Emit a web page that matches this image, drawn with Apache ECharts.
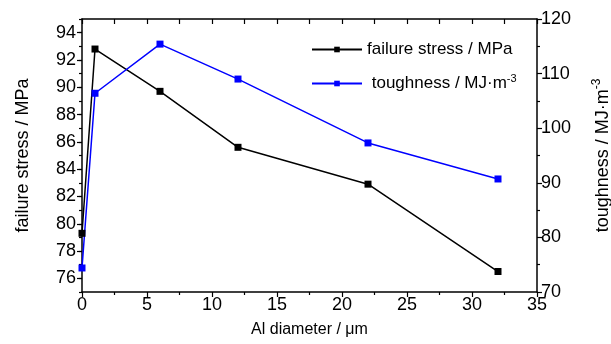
<!DOCTYPE html>
<html>
<head>
<meta charset="utf-8">
<style>
    html, body { margin: 0; padding: 0; background: #fff; }
    #chart { width: 611px; height: 344px; }
</style>
<script src="https://cdn.jsdelivr.net/npm/echarts@6/dist/echarts.min.js"></script>
</head>
<body>
<div id="chart"></div>
<script>
// Al diameter (um)
var diameters = [0, 1, 6, 12, 22, 32];
// failure stress / MPa (left axis)
var stressValues = [79.3, 92.8, 89.7, 85.6, 82.9, 76.5];
// toughness / MJ m-3 (right axis)
var toughnessValues = [74.4, 106.4, 115.4, 109.0, 97.3, 90.7];
// tick labels of left axis
var stressTicks = [76, 78, 80, 82, 84, 86, 88, 90, 92, 94];

function pairs(xs, ys) {
    return xs.map(function (x, i) { return [x, ys[i]]; });
}

var font = 'Liberation Sans, Arial, sans-serif';
var myChart = echarts.init(document.getElementById('chart'));

var options = {
    animation: false,
    backgroundColor: '#fff',
    grid: { left: 82, right: 74, top: 19, bottom: 52, outerBoundsMode: 'none' },
    legend: {
        orient: 'vertical',
        left: 306,
        top: 36,
        itemWidth: 50,
        itemHeight: 7,
        itemGap: 15,
        textStyle: {
            fontFamily: font,
            fontSize: 17,
            color: '#000',
            rich: {
                t: { fontFamily: font, fontSize: 17, color: '#000' },
                sup: { fontFamily: font, fontSize: 11, color: '#000', verticalAlign: 'top', padding: [0, 0, 10, 0] }
            }
        },
        formatter: function (name) {
            if (name === 'toughness') return '{t| toughness / MJ·m}{sup|-3}';
            return '{t|failure stress / MPa}';
        },
        data: ['failure stress', 'toughness']
    },
    xAxis: [{
        type: 'value',
        min: 0,
        max: 35,
        interval: 5,
        name: 'Al diameter / μm',
        nameLocation: 'middle',
        nameGap: 30,
        nameTextStyle: { fontFamily: font, fontSize: 16, color: '#000' },
        axisLine: { onZero: false, lineStyle: { color: '#000', width: 1.5 } },
        axisTick: { length: 5, lineStyle: { color: '#000', width: 1.2 } },
        minorTick: { show: true, splitNumber: 2, length: 3, lineStyle: { color: '#000', width: 1.2 } },
        axisLabel: { fontFamily: font, fontSize: 18, color: '#000', margin: 4 },
        splitLine: { show: false }
    }, {
        type: 'value',
        position: 'top',
        min: 0,
        max: 35,
        interval: 2.5,
        axisLine: { onZero: false, lineStyle: { color: '#000', width: 1.5 } },
        axisTick: { inside: true, length: 5, lineStyle: { color: '#000', width: 1.2 } },
        axisLabel: { show: false },
        splitLine: { show: false }
    }],
    yAxis: [{
        type: 'value',
        position: 'left',
        min: 75,
        max: 95,
        interval: 1,
        name: 'failure stress / MPa',
        nameLocation: 'middle',
        nameRotate: 90,
        nameGap: 50,
        nameTextStyle: { fontFamily: font, fontSize: 18, color: '#000' },
        axisLine: { show: true, onZero: false, lineStyle: { color: '#000', width: 1.5 } },
        axisTick: { customValues: stressTicks, length: 5, lineStyle: { color: '#000', width: 1.2 } },
        axisLabel: { customValues: stressTicks, fontFamily: font, fontSize: 18, color: '#000', margin: 6 },
        splitLine: { show: false }
    }, {
        type: 'value',
        position: 'right',
        min: 70,
        max: 120,
        interval: 10,
        name: '{t|toughness / MJ·m}{sup|-3}',
        nameLocation: 'middle',
        nameRotate: 90,
        nameGap: 54,
        nameTextStyle: {
            fontFamily: font, fontSize: 18, color: '#000',
            rich: {
                t: { fontFamily: font, fontSize: 18, color: '#000' },
                sup: { fontFamily: font, fontSize: 12, color: '#000', verticalAlign: 'top', padding: [0, 0, 12, 0] }
            }
        },
        axisLine: { show: true, onZero: false, lineStyle: { color: '#000', width: 1.5 } },
        axisTick: { length: 5, lineStyle: { color: '#000', width: 1.2 } },
        minorTick: { show: true, splitNumber: 2, length: 3, lineStyle: { color: '#000', width: 1.2 } },
        axisLabel: { fontFamily: font, fontSize: 18, color: '#000', margin: 4 },
        splitLine: { show: false }
    }, {
        // minor ticks of the left axis
        type: 'value',
        position: 'left',
        min: 75,
        max: 95,
        interval: 1,
        axisLine: { show: false },
        axisTick: { length: 3, lineStyle: { color: '#000', width: 1.2 } },
        axisLabel: { show: false },
        splitLine: { show: false }
    }],
    series: [{
        name: 'failure stress',
        type: 'line',
        xAxisIndex: 0,
        yAxisIndex: 0,
        data: pairs(diameters, stressValues),
        symbol: 'rect',
        symbolSize: 7,
        lineStyle: { color: '#000', width: 1.5 },
        itemStyle: { color: '#000' }
    }, {
        name: 'toughness',
        type: 'line',
        xAxisIndex: 0,
        yAxisIndex: 1,
        data: pairs(diameters, toughnessValues),
        symbol: 'rect',
        symbolSize: 7,
        lineStyle: { color: '#0000ff', width: 1.5 },
        itemStyle: { color: '#0000ff' }
    }]
};
myChart.setOption(options);
</script>
</body>
</html>
